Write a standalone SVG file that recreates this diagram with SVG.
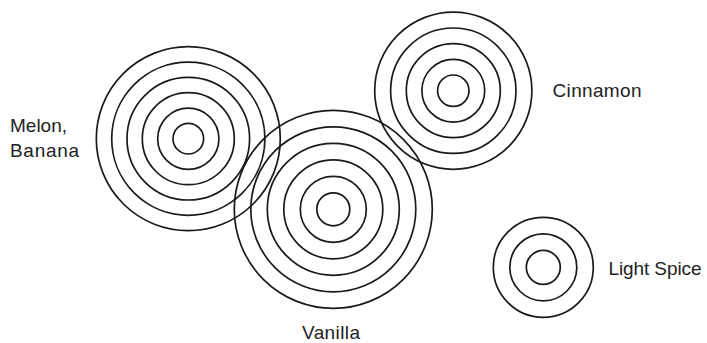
<svg xmlns="http://www.w3.org/2000/svg" width="707" height="343" viewBox="0 0 707 343">
<style>
circle{fill:none;stroke:#1a1a1a;stroke-width:1.7}
text{font-family:"Liberation Sans",Arial,sans-serif;font-size:19px;fill:#222}
</style>
<rect width="707" height="343" fill="#fff"/>
<g id="melon-banana">
<circle cx="188.3" cy="138.7" r="15.3"/>
<circle cx="188.3" cy="138.7" r="30.6"/>
<circle cx="188.3" cy="138.7" r="46"/>
<circle cx="188.3" cy="138.7" r="61.3"/>
<circle cx="188.3" cy="138.7" r="76.6"/>
<circle cx="188.3" cy="138.7" r="92"/>
<text x="10" y="132" textLength="57">Melon,</text>
<text x="10" y="157" textLength="69">Banana</text>
</g>
<g id="vanilla">
<circle cx="333.3" cy="209.3" r="16.5"/>
<circle cx="333.3" cy="209.3" r="33"/>
<circle cx="333.3" cy="209.3" r="49.5"/>
<circle cx="333.3" cy="209.3" r="66"/>
<circle cx="333.3" cy="209.3" r="82.5"/>
<circle cx="333.3" cy="209.3" r="99"/>
<text x="302" y="339" textLength="58">Vanilla</text>
</g>
<g id="cinnamon">
<circle cx="453.3" cy="90.7" r="15.7"/>
<circle cx="453.3" cy="90.7" r="31.4"/>
<circle cx="453.3" cy="90.7" r="47"/>
<circle cx="453.3" cy="90.7" r="62.7"/>
<circle cx="453.3" cy="90.7" r="78.6"/>
<text x="552.5" y="96.5" textLength="89">Cinnamon</text>
</g>
<g id="light-spice">
<circle cx="543.3" cy="267.3" r="17"/>
<circle cx="543.3" cy="267.3" r="33.5"/>
<circle cx="543.3" cy="267.3" r="50"/>
<text x="608.5" y="275" textLength="93">Light Spice</text>
</g>
<g id="connectors"></g>
</svg>
